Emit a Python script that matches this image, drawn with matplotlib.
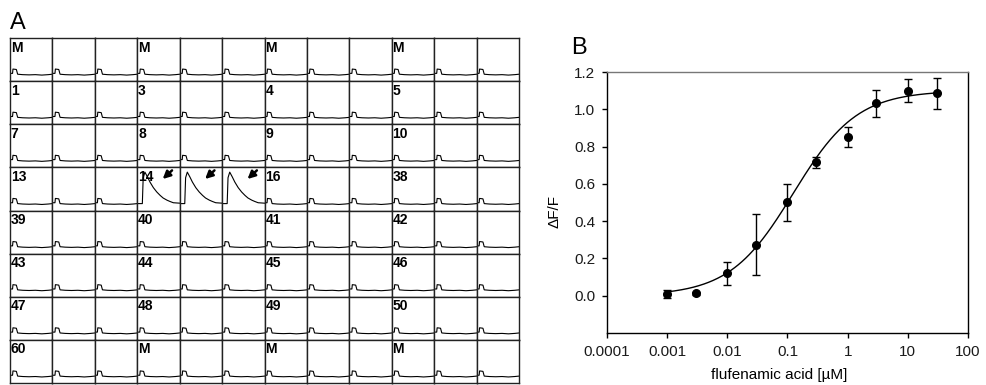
import numpy as np
import matplotlib
matplotlib.use("Agg")
import matplotlib.pyplot as plt
from matplotlib.ticker import NullLocator

plt.rcParams['font.family'] = ['Liberation Sans', 'DejaVu Sans']

# ---------------------------------------------------------------------------
# Panel A: 8 x 12 well plate, one label per group of three wells
# ---------------------------------------------------------------------------
well_labels = [
    ["M", "M", "M", "M"],
    ["1", "3", "4", "5"],
    ["7", "8", "9", "10"],
    ["13", "14", "16", "38"],
    ["39", "40", "41", "42"],
    ["43", "44", "45", "46"],
    ["47", "48", "49", "50"],
    ["60", "M", "M", "M"],
]
responders = [(3, 3), (3, 4), (3, 5)]   # (row, col) wells with a calcium transient

# traces: time as fraction of the well, signal above baseline (fraction of well height)
t_flat = [0.0, 0.06, 0.07, 0.15, 0.18, 0.3, 0.45, 0.6, 0.75, 0.9, 1.0]
y_flat = [0.02, 0.02, 0.12, 0.11, 0.0, -0.01, -0.015, -0.01, -0.02, -0.01, 0.0]
t_resp = [0.0, 0.12, 0.14, 0.18, 0.24, 0.30, 0.38, 0.46, 0.54, 0.61, 0.70, 0.77, 0.85, 1.0]
y_resp = [0.0, 0.0, 0.60, 0.73, 0.62, 0.50, 0.37, 0.27, 0.19, 0.13, 0.08, 0.05, 0.02, 0.01]

# ---------------------------------------------------------------------------
# Panel B: dose response to flufenamic acid
# ---------------------------------------------------------------------------
conc = [0.001, 0.003, 0.01, 0.03, 0.1, 0.3, 1, 3, 10, 30]
dff = [0.010, 0.012, 0.120, 0.274, 0.500, 0.715, 0.852, 1.032, 1.099, 1.085]
dff_err = [0.020, 0.008, 0.062, 0.165, 0.100, 0.030, 0.053, 0.073, 0.061, 0.083]
fit_bottom, fit_top, fit_ec50, fit_hill = 0.0, 1.1, 0.125, 0.82

x_ticks = [1e-4, 1e-3, 1e-2, 1e-1, 1, 10, 100]
x_ticklabels = ["0.0001", "0.001", "0.01", "0.1", "1", "10", "100"]
y_ticks = [0.0, 0.2, 0.4, 0.6, 0.8, 1.0, 1.2]

W, H = 987, 385
fig = plt.figure(figsize=(W / 100, H / 100), dpi=100)

n_rows, n_cols = len(well_labels), 12
gs = fig.add_gridspec(n_rows, n_cols, left=10 / W, right=519 / W,
                      top=1 - 38 / H, bottom=1 - 383 / H, wspace=0, hspace=0)
for r in range(n_rows):
    for c in range(n_cols):
        ax = fig.add_subplot(gs[r, c])
        if (r, c) in responders:
            ax.plot(t_resp, y_resp, color="k", lw=0.8)
            ax.annotate("", xy=(0.60, 0.57), xytext=(0.82, 0.77),
                        arrowprops=dict(arrowstyle="-|>", color="k", lw=1.8,
                                        mutation_scale=11, shrinkA=0, shrinkB=0))
        else:
            ax.plot(t_flat, y_flat, color="k", lw=0.8)
        ax.set_xlim(0, 1); ax.set_ylim(-0.16, 0.84)
        ax.set_xticks([]); ax.set_yticks([])
        for s in ax.spines.values():
            s.set_linewidth(1.0); s.set_color("#222222")
        if c % 3 == 0:
            ax.text(0.02, 0.94, well_labels[r][c // 3], transform=ax.transAxes,
                    ha="left", va="top", fontsize=10, fontweight="bold")

fig.text(10 / W, 1 - 12 / H, "A", fontsize=17, ha="left", va="top")
fig.text(571 / W, 1 - 37 / H, "B", fontsize=17, ha="left", va="top")

axb = fig.add_axes([607 / W, 1 - 333 / H, (968 - 607) / W, (333 - 72) / H])
axb.set_xscale("log")
xs = np.logspace(np.log10(conc[0]), np.log10(conc[-1]), 300)
fit = fit_bottom + (fit_top - fit_bottom) * xs ** fit_hill / (xs ** fit_hill + fit_ec50 ** fit_hill)
axb.plot(xs, fit, color="k", lw=1.0)
axb.errorbar(conc, dff, yerr=dff_err, fmt="o", color="k", ms=5.5, capsize=3,
             elinewidth=1.0, capthick=1.0)
axb.set_xlim(1e-4, 100); axb.set_ylim(-0.2, 1.2)
axb.set_xticks(x_ticks); axb.set_xticklabels(x_ticklabels)
axb.xaxis.set_minor_locator(NullLocator())
axb.set_yticks(y_ticks); axb.set_yticklabels([f"{v:.1f}" for v in y_ticks])
axb.tick_params(labelsize=11, length=3.5, width=1, pad=5, colors="k", labelcolor="#1a1a1a")
axb.spines["top"].set_color("#777777")
for s in axb.spines.values():
    s.set_linewidth(1.0)
axb.set_ylabel("ΔF/F", fontsize=11)
axb.yaxis.set_label_coords(-0.125, 0.467)
axb.set_xlabel("flufenamic acid [µM]", fontsize=11)
axb.xaxis.set_label_coords(0.476, -0.135)

fig.savefig("out.png", dpi=100)
